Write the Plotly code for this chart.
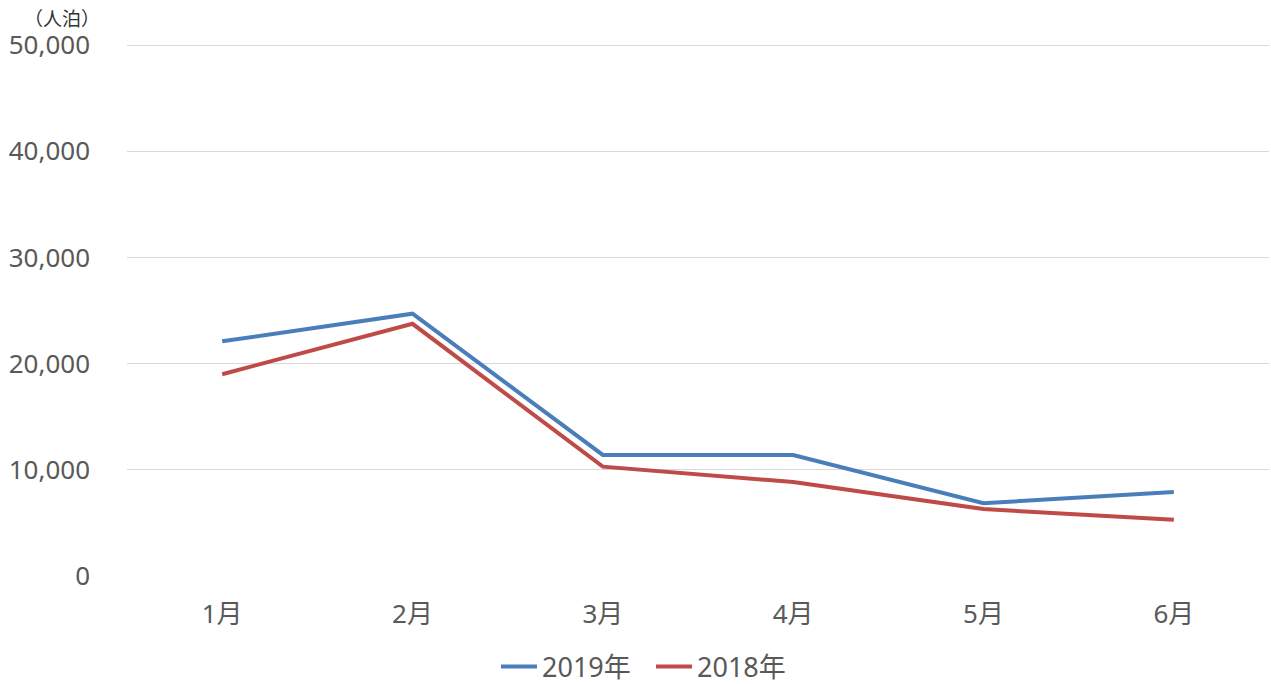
import plotly.graph_objects as go

months = ["1月", "2月", "3月", "4月", "5月", "6月"]
y2019 = [22100, 24700, 11400, 11400, 6850, 7900]
y2018 = [19000, 23750, 10300, 8850, 6300, 5300]
yticks = [0, 10000, 20000, 30000, 40000, 50000]
ytick_text = ["0", "10,000", "20,000", "30,000", "40,000", "50,000"]

FONT = "Noto Sans, Noto Sans CJK JP"
GRAY = "#595959"

fig = go.Figure()
fig.add_trace(go.Scatter(x=months, y=y2019, mode="lines", name="2019年",
                         line=dict(color="#4a7ebb", width=4)))
fig.add_trace(go.Scatter(x=months, y=y2018, mode="lines", name="2018年",
                         line=dict(color="#be4b48", width=4)))

PLOT_H = 684 - 44 - 108
fig.update_layout(
    width=1271, height=684,
    margin=dict(l=127, r=2, t=44, b=108, autoexpand=False),
    paper_bgcolor="white", plot_bgcolor="white",
    font=dict(family=FONT, color=GRAY, size=26),
    showlegend=True,
    legend=dict(orientation="h", x=(651-127)/1142, xanchor="center", xref="paper",
                y=(576-667)/PLOT_H, yanchor="middle", yref="paper",
                font=dict(size=27, color=GRAY, family=FONT),
                itemwidth=36, tracegroupgap=0,
                entrywidth=104, entrywidthmode="pixels"),
    annotations=[dict(text="（人泊）", xref="paper", yref="paper",
                      x=(62-127)/1142, y=(576-17)/PLOT_H, xanchor="center", yanchor="middle",
                      showarrow=False, font=dict(size=19, color="#333333", family="Noto Sans CJK JP"))],
)
fig.update_xaxes(type="category", range=[-0.5, 5.5], showgrid=False, zeroline=False,
                 showline=False, ticks="", ticklabelstandoff=20,
                 tickfont=dict(size=26, color=GRAY, family=FONT))
fig.update_yaxes(range=[0, 50100], tickvals=yticks, ticktext=ytick_text,
                 showgrid=True, gridcolor="#d9d9d9", gridwidth=1, zeroline=False,
                 showline=False, ticks="", ticklabelstandoff=36,
                 tickfont=dict(size=26, color=GRAY, family=FONT))

fig.write_html("out.html", config={"displayModeBar": False},
               post_script="document.body.style.margin='0';")
